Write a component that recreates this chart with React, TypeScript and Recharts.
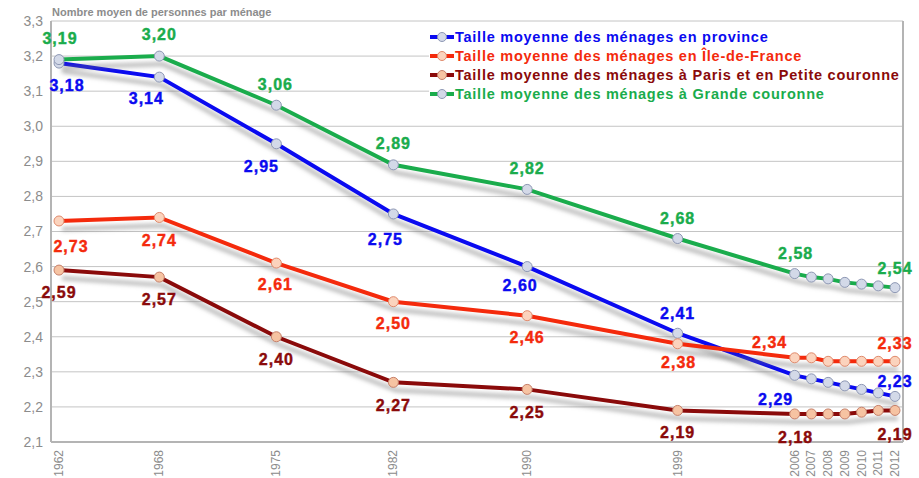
import { LineChart, Line, XAxis, YAxis, CartesianGrid, LabelList } from 'recharts'

const YEARS = [1962, 1968, 1975, 1982, 1990, 1999, 2006, 2007, 2008, 2009, 2010, 2011, 2012]
const PROVINCE = [3.18, 3.14, 2.95, 2.75, 2.6, 2.41, 2.29, 2.28, 2.27, 2.26, 2.25, 2.24, 2.23]
const ILE_DE_FRANCE = [2.73, 2.74, 2.61, 2.5, 2.46, 2.38, 2.34, 2.34, 2.33, 2.33, 2.33, 2.33, 2.33]
const PARIS_PC = [2.59, 2.57, 2.4, 2.27, 2.25, 2.19, 2.18, 2.18, 2.18, 2.18, 2.185, 2.19, 2.19]
const GRANDE_COURONNE = [3.19, 3.2, 3.06, 2.89, 2.82, 2.68, 2.58, 2.57, 2.565, 2.555, 2.55, 2.545, 2.54]
const LABELED_YEARS = [1962, 1968, 1975, 1982, 1990, 1999, 2006, 2012]
const Y_TICKS = [2.1, 2.2, 2.3, 2.4, 2.5, 2.6, 2.7, 2.8, 2.9, 3.0, 3.1, 3.2, 3.3]

const data = YEARS.map((year, i) => ({
    year,
    province: PROVINCE[i],
    idf: ILE_DE_FRANCE[i],
    paris: PARIS_PC[i],
    grande: GRANDE_COURONNE[i],
}))

type SeriesKey = 'province' | 'idf' | 'paris' | 'grande'

const SERIES: { key: SeriesKey; name: string; color: string; dotFill: string; dotStroke: string }[] = [
    { key: 'province', name: 'Taille moyenne des ménages en province', color: '#0a0af0', dotFill: '#d3d9e8', dotStroke: '#8e98b4' },
    { key: 'idf', name: 'Taille moyenne des ménages en Île-de-France', color: '#f42a0c', dotFill: '#fbd3bd', dotStroke: '#e08a6c' },
    { key: 'paris', name: 'Taille moyenne des ménages à Paris et en Petite couronne', color: '#8a0a0a', dotFill: '#f6c3a2', dotStroke: '#c6806a' },
    { key: 'grande', name: 'Taille moyenne des ménages à Grande couronne', color: '#1aac4c', dotFill: '#d3d9e8', dotStroke: '#8e98b4' },
]

// label centre offsets from the point, per year
const LABEL_OFFSETS: Record<SeriesKey, Record<number, [number, number]>> = {
    province: { 1962: [8, 22], 1968: [-13, 21], 1975: [-15, 22], 1982: [-8, 25], 1990: [-7, 18], 1999: [0, -20], 2006: [-19, 24], 2012: [0, -15] },
    idf: { 1962: [12, 25], 1968: [0, 23], 1975: [-1, 21], 1982: [0, 21], 1990: [0, 21], 1999: [1, 18], 2006: [-25, -16], 2012: [0, -18] },
    paris: { 1962: [0, 22], 1968: [0, 22], 1975: [0, 22], 1982: [0, 23], 1990: [0, 23], 1999: [0, 22], 2006: [1, 23], 2012: [0, 24] },
    grande: { 1962: [1, -22], 1968: [0, -22], 1975: [-1, -21], 1982: [0, -22], 1990: [0, -21], 1999: [0, -21], 2006: [1, -21], 2012: [0, -20] },
}

const FONT = '"Liberation Sans", Arial, sans-serif'

const fmt = (v: number, digits: number) => v.toFixed(digits).replace('.', ',')

function makeLabel(key: SeriesKey, color: string) {
    return (props: any) => {
        const { x, y, value, index } = props
        const year = YEARS[index]
        if (!LABELED_YEARS.includes(year)) return null
        const [dx, dy] = LABEL_OFFSETS[key][year] || [0, -20]
        return (
            <text
                x={Number(x) + dx}
                y={Number(y) + dy + 6}
                textAnchor="middle"
                fill={color}
                fontFamily={FONT}
                fontWeight="bold"
                fontSize={16}
                letterSpacing={1}
                stroke={color}
                strokeWidth={0.4}
            >
                {fmt(Number(value), 2)}
            </text>
        )
    }
}

const XTick = (props: any) => {
    const { x, y, payload } = props
    return (
        <text
            x={x}
            y={y}
            dy={4}
            transform={`rotate(-90 ${x} ${y})`}
            textAnchor="end"
            fill="#8c8c8c"
            fontFamily={FONT}
            fontSize={12}
        >
            {payload.value}
        </text>
    )
}

const ChartLegend = () => (
    <div
        style={{
            position: 'absolute',
            top: 22,
            left: 429,
            width: 473,
            height: 86,
            background: '#fff',
            paddingTop: 5,
            boxSizing: 'border-box',
        }}
    >
        {SERIES.map((s) => (
            <div key={s.key} style={{ display: 'flex', alignItems: 'center', height: 19 }}>
                <svg width={26} height={12} style={{ flex: 'none' }}>
                    <line x1={1} y1={6} x2={25} y2={6} stroke={s.color} strokeWidth={4} />
                    <circle cx={13} cy={6} r={4.5} fill={s.dotFill} stroke={s.dotStroke} strokeWidth={1} />
                </svg>
                <span
                    style={{
                        color: s.color,
                        fontFamily: FONT,
                        fontWeight: 'bold',
                        fontSize: 14.5,
                        letterSpacing: 0.75,
                        whiteSpace: 'nowrap',
                    }}
                >
                    {s.name}
                </span>
            </div>
        ))}
    </div>
)

export default function App() {
    return (
        <div style={{ position: 'relative', width: 919, height: 478, background: '#fff' }}>
            <style>{`
                body { margin: 0; }
                .shadowed .recharts-line-curve { filter: drop-shadow(3px 8px 2px rgba(110, 110, 110, 0.5)); }
            `}</style>
            <LineChart width={919} height={478} data={data} margin={{ top: 21, right: 15, bottom: 0, left: 0 }}>
                <CartesianGrid vertical={false} stroke="#c4c4c4" />
                <XAxis
                    dataKey="year"
                    type="number"
                    domain={[1962, 2012]}
                    ticks={YEARS}
                    interval={0}
                    padding={{ left: 8, right: 8 }}
                    height={36}
                    tickLine={false}
                    axisLine={{ stroke: '#b4b4b4', strokeWidth: 2 }}
                    tick={<XTick />}
                />
                <YAxis
                    domain={[2.1, 3.3]}
                    ticks={Y_TICKS}
                    width={51}
                    tickLine={false}
                    axisLine={{ stroke: '#b4b4b4', strokeWidth: 2 }}
                    tickFormatter={(v: number) => fmt(v, 1)}
                    tick={{ fill: '#8c8c8c', fontSize: 14, fontFamily: FONT }}
                    allowDataOverflow
                />
                <YAxis
                    yAxisId="right"
                    orientation="right"
                    width={1}
                    tick={false}
                    tickLine={false}
                    axisLine={{ stroke: '#b4b4b4', strokeWidth: 2 }}
                />
                {SERIES.map((s) => (
                    <Line
                        key={s.key}
                        className="shadowed"
                        type="linear"
                        dataKey={s.key}
                        name={s.name}
                        stroke={s.color}
                        strokeWidth={4}
                        dot={{ r: 5, fill: s.dotFill, stroke: s.dotStroke, strokeWidth: 1 }}
                        activeDot={false}
                        isAnimationActive={false}
                    >
                        <LabelList dataKey={s.key} content={makeLabel(s.key, s.color)} />
                    </Line>
                ))}
            </LineChart>
            <ChartLegend />
            <div
                style={{
                    position: 'absolute',
                    left: 52,
                    top: 6,
                    fontFamily: FONT,
                    fontWeight: 'bold',
                    fontSize: 11,
                    color: '#8c8c8c',
                }}
            >
                Nombre moyen de personnes par ménage
            </div>
        </div>
    )
}
